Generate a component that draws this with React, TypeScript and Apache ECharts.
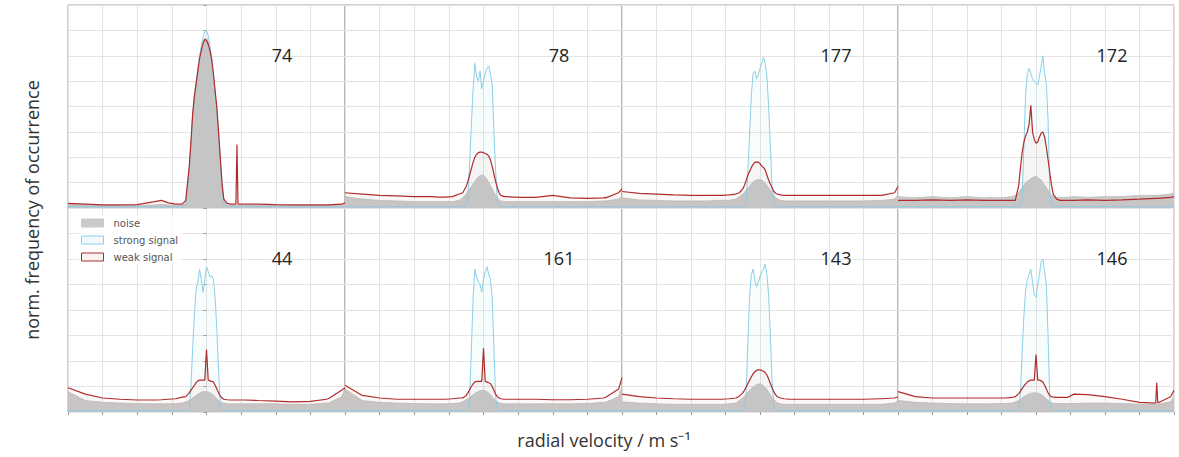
import React, { useEffect, useRef } from "react";
import * as echarts from "echarts";

// radial velocity grid (shared by all panels)
const VELOCITY = [
  -4, -3.5, -3, -2.5, -2, -1.5, -1.3, -1.1, -0.9, -0.7,
  -0.6, -0.5, -0.45, -0.4, -0.35, -0.3, -0.25, -0.2, -0.15, -0.1, -0.05, 0, 0.05, 0.1, 0.15, 0.2, 0.25, 0.3, 0.35, 0.4, 0.45, 0.5, 0.6, 0.7,
  0.85, 0.88, 0.91, 1.1, 1.5, 2, 2.5, 3, 3.47, 3.5, 3.53, 3.9, 4,
];

const PANEL_LABELS = ["74", "78", "177", "172", "44", "161", "143", "146"];
const SERIES_NAMES = ["noise", "strong signal", "weak signal"];
const Y_TICKS = [0, 1, 2, 3, 4, 5, 6, 7, 8];
const X_TICKS = [-4, -3, -2, -1, 0, 1, 2, 3, 4];

// ---- panel 74
const NOISE_74 = [0.15, 0.12, 0.1, 0.1, 0.1, 0.12, 0.15, 0.12, 0.1, 0.1,
  0.2, 1.5, 2.5, 3.6, 4.3, 4.8, 5.3, 5.8, 6.15, 6.45, 6.65, 6.7, 6.55, 6.25, 5.85, 5.25, 4.55, 3.9, 2.9, 1.9, 0.9, 0.3, 0.12, 0.1,
  0.1, 0.1, 0.1, 0.1, 0.1, 0.1, 0.1, 0.1, 0.1, 0.1, 0.1, 0.12, 0.15];
const STRONG_74 = [0.05, 0.05, 0.05, 0.05, 0.05, 0.05, 0.05, 0.05, 0.05, 0.05,
  0.1, 1.5, 2.5, 3.6, 4.4, 5.0, 5.5, 6.0, 6.4, 6.7, 6.95, 7.0, 6.8, 6.4, 5.9, 5.2, 4.5, 3.8, 2.8, 1.8, 0.8, 0.2, 0.05, 0.05,
  0.05, 0.05, 0.05, 0.05, 0.05, 0.05, 0.05, 0.05, 0.05, 0.05, 0.05, 0.05, 0.05];
const WEAK_74 = [0.18, 0.15, 0.12, 0.12, 0.13, 0.25, 0.3, 0.2, 0.15, 0.15,
  0.3, 1.6, 2.6, 3.7, 4.4, 4.9, 5.4, 5.9, 6.2, 6.5, 6.65, 6.6, 6.45, 6.2, 5.85, 5.3, 4.6, 3.95, 2.95, 1.95, 0.95, 0.35, 0.18, 0.15,
  0.15, 2.5, 0.15, 0.15, 0.15, 0.13, 0.12, 0.12, 0.12, 0.12, 0.12, 0.15, 0.2];

// ---- panel 78
const NOISE_78 = [0.45, 0.35, 0.3, 0.28, 0.25, 0.25, 0.25, 0.25, 0.25, 0.3,
  0.4, 0.55, 0.65, 0.75, 0.85, 0.95, 1.05, 1.15, 1.22, 1.28, 1.3, 1.28, 1.22, 1.12, 1.0, 0.88, 0.75, 0.62, 0.5, 0.4, 0.32, 0.28, 0.25, 0.25,
  0.25, 0.25, 0.25, 0.25, 0.25, 0.25, 0.25, 0.25, 0.28, 0.28, 0.28, 0.35, 0.45];
const STRONG_78 = [0.05, 0.05, 0.05, 0.05, 0.05, 0.05, 0.05, 0.05, 0.05, 0.05,
  0.05, 0.1, 0.4, 1.8, 3.3, 4.7, 5.7, 5.2, 5.0, 5.4, 4.7, 5.0, 5.3, 5.5, 5.6, 5.3, 4.9, 3.0, 1.5, 0.3, 0.1, 0.05, 0.05, 0.05,
  0.05, 0.05, 0.05, 0.05, 0.05, 0.05, 0.05, 0.05, 0.05, 0.05, 0.05, 0.05, 0.05];
const WEAK_78 = [0.6, 0.55, 0.5, 0.48, 0.45, 0.45, 0.43, 0.43, 0.45, 0.55,
  0.6, 0.85, 1.05, 1.3, 1.55, 1.8, 2.0, 2.12, 2.18, 2.2, 2.2, 2.18, 2.15, 2.12, 2.05, 1.9, 1.65, 1.35, 1.05, 0.8, 0.6, 0.5, 0.45, 0.45,
  0.43, 0.43, 0.43, 0.42, 0.42, 0.5, 0.4, 0.38, 0.4, 0.42, 0.4, 0.6, 0.75];

// ---- panel 177
const NOISE_177 = [0.4, 0.32, 0.3, 0.28, 0.28, 0.28, 0.3, 0.3, 0.3, 0.35,
  0.45, 0.55, 0.62, 0.7, 0.78, 0.86, 0.95, 1.02, 1.08, 1.1, 1.12, 1.12, 1.1, 1.05, 0.98, 0.9, 0.8, 0.7, 0.6, 0.5, 0.42, 0.36, 0.3, 0.28,
  0.28, 0.28, 0.28, 0.28, 0.28, 0.28, 0.28, 0.28, 0.3, 0.3, 0.3, 0.35, 0.5];
const STRONG_177 = [0.05, 0.05, 0.05, 0.05, 0.05, 0.05, 0.05, 0.05, 0.05, 0.05,
  0.05, 0.05, 0.05, 0.3, 1.5, 3.0, 4.5, 5.3, 5.4, 5.1, 5.25, 5.5, 5.7, 5.95, 5.7, 5.2, 4.0, 2.5, 0.8, 0.15, 0.05, 0.05, 0.05, 0.05,
  0.05, 0.05, 0.05, 0.05, 0.05, 0.05, 0.05, 0.05, 0.05, 0.05, 0.05, 0.05, 0.05];
const WEAK_177 = [0.65, 0.58, 0.55, 0.52, 0.5, 0.5, 0.5, 0.5, 0.52, 0.55,
  0.6, 0.75, 0.9, 1.1, 1.3, 1.45, 1.6, 1.72, 1.8, 1.82, 1.8, 1.75, 1.65, 1.6, 1.5, 1.3, 1.1, 0.95, 0.8, 0.65, 0.58, 0.55, 0.52, 0.5,
  0.5, 0.5, 0.5, 0.5, 0.5, 0.5, 0.5, 0.5, 0.5, 0.5, 0.5, 0.6, 0.85];

// ---- panel 172
const NOISE_172 = [0.45, 0.4, 0.45, 0.4, 0.45, 0.4, 0.42, 0.4, 0.42, 0.45,
  0.5, 0.6, 0.7, 0.8, 0.9, 1.0, 1.05, 1.1, 1.15, 1.2, 1.22, 1.25, 1.2, 1.15, 1.1, 1.0, 0.9, 0.8, 0.7, 0.6, 0.5, 0.45, 0.42, 0.42,
  0.42, 0.42, 0.42, 0.45, 0.42, 0.45, 0.45, 0.5, 0.5, 0.5, 0.5, 0.55, 0.6];
const STRONG_172 = [0.05, 0.05, 0.05, 0.05, 0.05, 0.05, 0.05, 0.05, 0.05, 0.05,
  0.05, 0.05, 0.1, 0.5, 2.5, 4.5, 5.3, 5.5, 5.3, 5.1, 5.0, 4.9, 4.85, 5.2, 5.6, 6.0, 5.3, 4.9, 3.5, 0.6, 0.1, 0.05, 0.05, 0.05,
  0.05, 0.05, 0.05, 0.05, 0.05, 0.05, 0.05, 0.05, 0.05, 0.05, 0.05, 0.05, 0.05];
const WEAK_172 = [0.3, 0.3, 0.32, 0.3, 0.32, 0.3, 0.3, 0.3, 0.3, 0.3,
  0.3, 0.9, 1.6, 2.2, 2.6, 2.85, 3.0, 3.3, 4.05, 3.0, 2.7, 2.55, 2.6, 2.8, 2.95, 3.0, 2.8, 2.4, 1.9, 1.4, 0.9, 0.55, 0.35, 0.3,
  0.3, 0.3, 0.3, 0.3, 0.32, 0.3, 0.32, 0.35, 0.38, 0.38, 0.38, 0.42, 0.45];

// ---- panel 44
const NOISE_44 = [0.8, 0.45, 0.38, 0.35, 0.33, 0.32, 0.32, 0.32, 0.33, 0.35,
  0.4, 0.45, 0.5, 0.55, 0.6, 0.65, 0.7, 0.74, 0.77, 0.8, 0.8, 0.8, 0.78, 0.75, 0.72, 0.67, 0.6, 0.52, 0.45, 0.4, 0.36, 0.34, 0.32, 0.32,
  0.32, 0.32, 0.32, 0.32, 0.32, 0.32, 0.3, 0.3, 0.35, 0.35, 0.35, 0.6, 0.9];
const STRONG_44 = [0.05, 0.05, 0.05, 0.05, 0.05, 0.05, 0.05, 0.05, 0.05, 0.05,
  0.05, 0.1, 1.0, 2.5, 3.8, 4.8, 5.1, 5.6, 5.2, 4.7, 5.2, 5.7, 5.5, 5.3, 5.35, 5.2, 4.5, 3.2, 1.6, 0.3, 0.08, 0.05, 0.05, 0.05,
  0.05, 0.05, 0.05, 0.05, 0.05, 0.05, 0.05, 0.05, 0.05, 0.05, 0.05, 0.05, 0.05];
const WEAK_44 = [0.95, 0.7, 0.55, 0.5, 0.47, 0.47, 0.48, 0.5, 0.52, 0.58,
  0.6, 0.75, 0.85, 0.95, 1.05, 1.15, 1.22, 1.25, 1.25, 1.25, 1.25, 2.45, 1.25, 1.22, 1.2, 1.18, 1.05, 0.9, 0.75, 0.62, 0.55, 0.5, 0.48, 0.47,
  0.47, 0.47, 0.47, 0.47, 0.45, 0.43, 0.4, 0.42, 0.5, 0.52, 0.53, 0.85, 0.95];

// ---- panel 161
const NOISE_161 = [0.9, 0.45, 0.38, 0.35, 0.33, 0.32, 0.32, 0.32, 0.33, 0.35,
  0.4, 0.48, 0.52, 0.58, 0.63, 0.68, 0.73, 0.77, 0.8, 0.83, 0.85, 0.85, 0.83, 0.8, 0.75, 0.68, 0.6, 0.52, 0.45, 0.4, 0.36, 0.34, 0.32, 0.32,
  0.32, 0.32, 0.32, 0.32, 0.32, 0.32, 0.32, 0.33, 0.38, 0.38, 0.38, 0.6, 1.0];
const STRONG_161 = [0.05, 0.05, 0.05, 0.05, 0.05, 0.05, 0.05, 0.05, 0.05, 0.05,
  0.05, 0.05, 0.1, 0.6, 2.5, 4.5, 5.6, 5.3, 5.1, 5.0, 4.7, 5.2, 5.5, 5.7, 5.4, 5.2, 4.5, 2.5, 0.6, 0.1, 0.05, 0.05, 0.05, 0.05,
  0.05, 0.05, 0.05, 0.05, 0.05, 0.05, 0.05, 0.05, 0.05, 0.05, 0.05, 0.05, 0.05];
const WEAK_161 = [1.05, 0.65, 0.55, 0.5, 0.5, 0.5, 0.5, 0.5, 0.52, 0.55,
  0.55, 0.65, 0.75, 0.88, 1.0, 1.1, 1.18, 1.2, 1.2, 1.2, 1.2, 2.5, 1.2, 1.18, 1.15, 1.12, 1.0, 0.85, 0.7, 0.6, 0.55, 0.52, 0.5, 0.5,
  0.5, 0.5, 0.5, 0.5, 0.5, 0.48, 0.48, 0.5, 0.55, 0.57, 0.58, 0.9, 1.35];

// ---- panel 143
const NOISE_143 = [0.4, 0.35, 0.32, 0.3, 0.3, 0.3, 0.3, 0.3, 0.32, 0.35,
  0.45, 0.55, 0.62, 0.7, 0.78, 0.85, 0.92, 0.98, 1.03, 1.08, 1.1, 1.1, 1.08, 1.03, 0.96, 0.88, 0.78, 0.68, 0.58, 0.5, 0.42, 0.36, 0.32, 0.3,
  0.3, 0.3, 0.3, 0.3, 0.3, 0.3, 0.3, 0.3, 0.3, 0.3, 0.3, 0.35, 0.45];
const STRONG_143 = [0.05, 0.05, 0.05, 0.05, 0.05, 0.05, 0.05, 0.05, 0.05, 0.05,
  0.05, 0.05, 0.1, 0.8, 2.8, 4.6, 5.4, 5.6, 5.2, 4.9, 5.1, 5.3, 5.5, 5.6, 5.8, 5.4, 4.6, 3.0, 1.2, 0.25, 0.07, 0.05, 0.05, 0.05,
  0.05, 0.05, 0.05, 0.05, 0.05, 0.05, 0.05, 0.05, 0.05, 0.05, 0.05, 0.05, 0.05];
const WEAK_143 = [0.7, 0.6, 0.55, 0.52, 0.5, 0.5, 0.5, 0.5, 0.52, 0.55,
  0.62, 0.75, 0.85, 0.98, 1.12, 1.25, 1.38, 1.5, 1.58, 1.63, 1.65, 1.65, 1.63, 1.6, 1.55, 1.45, 1.3, 1.12, 0.95, 0.8, 0.68, 0.6, 0.55, 0.52,
  0.5, 0.5, 0.5, 0.5, 0.5, 0.5, 0.5, 0.5, 0.52, 0.52, 0.52, 0.55, 0.6];

// ---- panel 146
const NOISE_146 = [0.45, 0.38, 0.35, 0.33, 0.32, 0.32, 0.32, 0.33, 0.33, 0.35,
  0.4, 0.45, 0.5, 0.55, 0.6, 0.64, 0.68, 0.71, 0.73, 0.75, 0.75, 0.75, 0.74, 0.72, 0.69, 0.64, 0.58, 0.52, 0.46, 0.4, 0.36, 0.34, 0.33, 0.33,
  0.33, 0.33, 0.33, 0.33, 0.35, 0.35, 0.33, 0.3, 0.3, 0.3, 0.3, 0.4, 0.6];
const STRONG_146 = [0.05, 0.05, 0.05, 0.05, 0.05, 0.05, 0.05, 0.05, 0.05, 0.05,
  0.05, 0.1, 0.8, 2.4, 3.8, 4.8, 5.2, 5.4, 5.6, 5.1, 4.6, 4.5, 5.0, 5.4, 5.9, 6.0, 5.5, 5.0, 3.0, 0.5, 0.1, 0.05, 0.05, 0.05,
  0.05, 0.05, 0.05, 0.05, 0.05, 0.05, 0.05, 0.05, 0.05, 0.05, 0.05, 0.05, 0.05];
const WEAK_146 = [0.8, 0.6, 0.55, 0.55, 0.55, 0.55, 0.55, 0.55, 0.55, 0.57,
  0.6, 0.72, 0.82, 0.92, 1.02, 1.1, 1.18, 1.22, 1.25, 1.25, 1.25, 2.25, 1.25, 1.25, 1.22, 1.18, 1.05, 0.9, 0.75, 0.65, 0.6, 0.58, 0.57, 0.57,
  0.57, 0.57, 0.57, 0.7, 0.68, 0.6, 0.5, 0.38, 0.35, 1.15, 0.35, 0.6, 0.85];

const NOISE = [NOISE_74, NOISE_78, NOISE_177, NOISE_172, NOISE_44, NOISE_161, NOISE_143, NOISE_146];
const STRONG = [STRONG_74, STRONG_78, STRONG_177, STRONG_172, STRONG_44, STRONG_161, STRONG_143, STRONG_146];
const WEAK = [WEAK_74, WEAK_78, WEAK_177, WEAK_172, WEAK_44, WEAK_161, WEAK_143, WEAK_146];

// layout
const COL_EDGES = [68, 345, 622, 898, 1174];
const ROW_EDGES = [5, 208, 412];

const FONT = "DejaVu Sans";
const LABEL_FONT = "Open Sans";
const NOISE_COLOR = "#cacaca";
const STRONG_COLOR = "#8ccfe8";
const WEAK_COLOR = "#b02c2c";

export default function App() {
  const ref = useRef<HTMLDivElement>(null);

  useEffect(() => {
    if (!ref.current) return;
    const chart = echarts.init(ref.current, undefined, { renderer: "svg" });

    const grids: any[] = [];
    const xAxes: any[] = [];
    const yAxes: any[] = [];
    const series: any[] = [];
    const graphics: any[] = [];

    PANEL_LABELS.forEach((label, i) => {
      const col = i % 4;
      const row = Math.floor(i / 4);
      const left = COL_EDGES[col];
      const width = COL_EDGES[col + 1] - left;
      const top = ROW_EDGES[row];
      const height = ROW_EDGES[row + 1] - top;
      grids.push({
        left,
        top,
        width,
        height,
        show: true,
        borderColor: "#a0a0a0",
        borderWidth: 1,
        containLabel: false,
      });
      xAxes.push({
        gridIndex: i,
        type: "value",
        min: X_TICKS[0],
        max: X_TICKS[X_TICKS.length - 1],
        interval: 1,
        splitNumber: 8,
        axisLabel: { show: false },
        axisLine: { show: false },
        axisTick: { show: row === 1, length: 3, lineStyle: { color: "#999" } },
        minorTick: { show: false },
        minorSplitLine: { show: false },
        splitLine: { show: true, lineStyle: { color: "#e3e3e3", width: 1 } },
      });
      yAxes.push({
        gridIndex: i,
        type: "value",
        min: Y_TICKS[0],
        max: Y_TICKS[Y_TICKS.length - 1],
        interval: 1,
        splitNumber: 8,
        axisLabel: { show: false },
        axisLine: { show: false },
        axisTick: { show: col === 0, length: 3, lineStyle: { color: "#999" } },
        minorTick: { show: false },
        minorSplitLine: { show: false },
        splitLine: { show: true, lineStyle: { color: "#e3e3e3", width: 1 } },
      });
      const pairs = (arr: number[]) => VELOCITY.map((v, j) => [v, arr[j]]);
      series.push({
        name: SERIES_NAMES[0],
        type: "line",
        xAxisIndex: i,
        yAxisIndex: i,
        data: pairs(NOISE[i]),
        showSymbol: false,
        symbol: "none",
        lineStyle: { color: "#bdbdbd", width: 0.8 },
        itemStyle: { color: NOISE_COLOR },
        areaStyle: { color: NOISE_COLOR, opacity: 1 },
        z: 1,
      });
      series.push({
        name: SERIES_NAMES[1],
        type: "line",
        xAxisIndex: i,
        yAxisIndex: i,
        data: pairs(STRONG[i]),
        showSymbol: false,
        symbol: "none",
        lineStyle: { color: STRONG_COLOR, width: 1 },
        itemStyle: { color: STRONG_COLOR },
        areaStyle: { color: "rgba(140,207,232,0.10)" },
        z: 2,
      });
      series.push({
        name: SERIES_NAMES[2],
        type: "line",
        xAxisIndex: i,
        yAxisIndex: i,
        data: pairs(WEAK[i]),
        showSymbol: false,
        symbol: "none",
        lineStyle: { color: WEAK_COLOR, width: 1.2 },
        itemStyle: { color: WEAK_COLOR },
        areaStyle: { color: "rgba(205,92,92,0.06)" },
        z: 3,
      });
      graphics.push({
        type: "text",
        x: left + 214,
        y: top + 50,
        z: 10,
        style: {
          text: label,
          fontSize: 18,
          fontFamily: LABEL_FONT,
          fill: "#222",
          align: "center",
          verticalAlign: "middle",
        },
      });
    });

    graphics.push({
      type: "text",
      x: 32,
      y: 210,
      rotation: Math.PI / 2,
      style: {
        text: "norm. frequency of occurrence",
        fontSize: 18,
        fontFamily: LABEL_FONT,
        fill: "#333",
        align: "center",
        verticalAlign: "middle",
      },
    });
    graphics.push({
      type: "text",
      x: 604,
      y: 440,
      style: {
        text: "radial velocity / m s\u207B\u00B9",
        fontSize: 18,
        fontFamily: LABEL_FONT,
        fill: "#333",
        align: "center",
        verticalAlign: "middle",
      },
    });

    chart.setOption({
      animation: false,
      backgroundColor: "#ffffff",
      grid: grids,
      xAxis: xAxes,
      yAxis: yAxes,
      series,
      graphic: graphics,
      legend: {
        orient: "vertical",
        left: 79,
        top: 216,
        itemWidth: 22,
        itemHeight: 8,
        itemGap: 7,
        selectedMode: false,
        backgroundColor: "rgba(255,255,255,0.8)",
        padding: [2, 4, 2, 2],
        textStyle: { fontFamily: FONT, fontSize: 10, color: "#555", padding: [0, 0, 0, 5] },
        data: [
          { name: SERIES_NAMES[0], icon: "rect", itemStyle: { color: NOISE_COLOR, borderColor: NOISE_COLOR, borderWidth: 1 } },
          { name: SERIES_NAMES[1], icon: "rect", itemStyle: { color: "rgba(140,207,232,0.12)", borderColor: STRONG_COLOR, borderWidth: 1 } },
          { name: SERIES_NAMES[2], icon: "rect", itemStyle: { color: "rgba(205,92,92,0.08)", borderColor: WEAK_COLOR, borderWidth: 1 } },
        ],
      },
    });

    return () => chart.dispose();
  }, []);

  return (
    <div
      ref={ref}
      style={{ position: "absolute", left: 0, top: 0, width: 1179, height: 457 }}
    />
  );
}
